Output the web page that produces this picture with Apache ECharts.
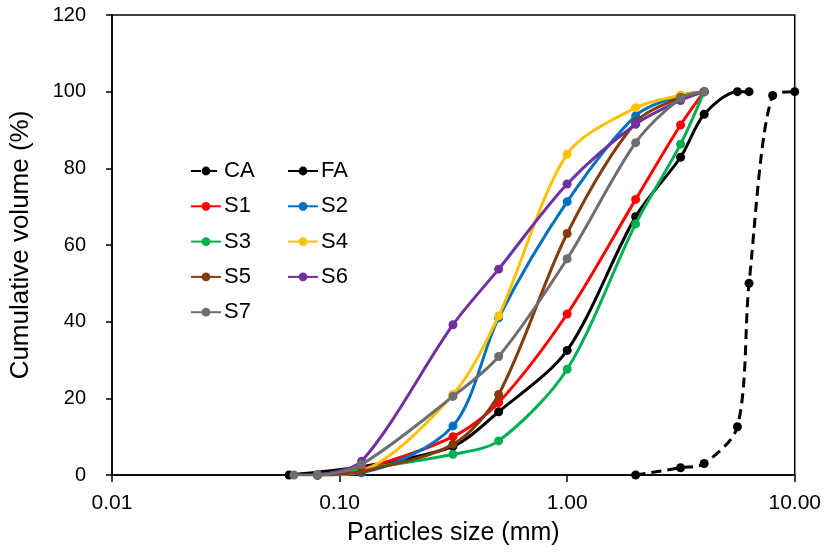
<!DOCTYPE html>
<html>
<head>
<meta charset="utf-8">
<script src="https://cdn.jsdelivr.net/npm/echarts@6/dist/echarts.min.js"></script>
<style>html,body{margin:0;padding:0;background:#fff}#c{width:824px;height:554px}</style>
</head>
<body>
<div id="c"></div>
<script>
// ---- data ----
const seriesNames = ['CA','FA','S1','S2','S3','S4','S5','S6','S7'];
const sizesCA = [2, 3.15, 4, 5.6, 6.3, 8, 10];
const valuesCA = [0, 1.9, 3, 12.6, 50, 99, 100];
const sizesFA = [0.06, 0.125, 0.315, 0.5, 1, 2, 3.15, 4, 5.6, 6.3];
const valuesFA = [0, 2.2, 7.5, 16.5, 32.5, 67.4, 82.9, 94.1, 100, 100];
const sizesS = [0.08, 0.125, 0.315, 0.5, 1, 2, 3.15, 4];
const valuesS1 = [0, 1.5, 10, 18.9, 42, 71.9, 91.3, 100];
const valuesS2 = [0, 0.6, 12.8, 41, 71.3, 93.7, 99, 100];
const valuesS3 = [0, 1.5, 5.4, 8.9, 27.6, 65.5, 86.3, 100];
const valuesS4 = [0, 1, 21, 41.5, 83.7, 95.8, 99.1, 100];
const valuesS5 = [0, 0.9, 8, 21, 63, 92, 98.5, 100];
const valuesS6 = [0, 3.6, 39.2, 53.7, 75.9, 91.5, 97.7, 100];
const sizesS7 = [0.063, 0.08, 0.125, 0.315, 0.5, 1, 2, 3.15, 4];
const valuesS7 = [0, 0, 2.8, 20.5, 30.9, 56.4, 86.7, 98.3, 100];
const yTicks = [0, 20, 40, 60, 80, 100, 120];
const xTickLabels = ['0.01', '0.10', '1.00', '10.00'];

const colors = ['#000000','#000000','#FF0000','#0070C0','#00B050','#FFC000','#843C0C','#7030A0','#6E6E6E'];
const pairs = (xs, ys) => xs.map((x, i) => [x, ys[i]]);
const dataList = [
  pairs(sizesCA, valuesCA), pairs(sizesFA, valuesFA),
  pairs(sizesS, valuesS1), pairs(sizesS, valuesS2), pairs(sizesS, valuesS3),
  pairs(sizesS, valuesS4), pairs(sizesS, valuesS5), pairs(sizesS, valuesS6),
  pairs(sizesS7, valuesS7)
];

const FONT = '"Liberation Sans", Arial, sans-serif';
const series = seriesNames.map((n, i) => ({
  name: n, type: 'line', data: dataList[i], smooth: 0.3,
  symbol: 'circle', symbolSize: 9, showSymbol: true,
  color: colors[i],
  lineStyle: { width: 3, color: colors[i], type: n === 'CA' ? [10, 6] : 'solid' },
  itemStyle: { color: colors[i] },
  z: 2 + i
}));

const legendCommon = {
  orient: 'vertical', itemWidth: 30, itemHeight: 11, itemGap: 13.3,
  textStyle: { fontFamily: FONT, fontSize: 22, color: '#000', padding: [0, 0, 0, -2] },
  selectedMode: false
};

const chart = echarts.init(document.getElementById('c'), null, { renderer: 'canvas' });
chart.setOption({
  animation: false,
  backgroundColor: '#fff',
  grid: { left: 112, right: 28, top: 15, bottom: 79, show: true, borderColor: '#000', borderWidth: 1.5, containLabel: false },
  legend: [
    Object.assign({ left: 185, top: 155, data: ['CA','S1','S3','S5','S7'] }, legendCommon),
    Object.assign({ left: 282, top: 155, data: ['FA','S2','S4','S6'] }, legendCommon)
  ],
  xAxis: {
    type: 'log', logBase: 10, min: 0.01, max: 10,
    name: 'Particles size (mm)', nameLocation: 'middle', nameGap: 46,
    nameTextStyle: { fontFamily: FONT, fontSize: 25, color: '#000' },
    axisLine: { show: true, lineStyle: { color: '#000', width: 1.5 } },
    axisTick: { show: true, inside: false, length: 7, lineStyle: { color: '#000', width: 1.5 } },
    minorTick: { show: false },
    splitLine: { show: false },
    axisLabel: { fontFamily: FONT, fontSize: 21, color: '#000', margin: 18,
      formatter: v => { const k = Math.round(Math.log10(v)) + 2; return xTickLabels[k] !== undefined ? xTickLabels[k] : ''; } }
  },
  yAxis: {
    type: 'value', min: yTicks[0], max: yTicks[yTicks.length - 1], interval: yTicks[1] - yTicks[0],
    name: 'Cumulative volume (%)', nameLocation: 'middle', nameGap: 78,
    nameTextStyle: { fontFamily: FONT, fontSize: 26, color: '#000' },
    axisLine: { show: true, lineStyle: { color: '#000', width: 1.5 } },
    axisTick: { show: true, inside: false, length: 6, lineStyle: { color: '#000', width: 1.5 } },
    splitLine: { show: false },
    axisLabel: { fontFamily: FONT, fontSize: 20, color: '#000', margin: 26 }
  },
  series: series
});
</script>
</body>
</html>
